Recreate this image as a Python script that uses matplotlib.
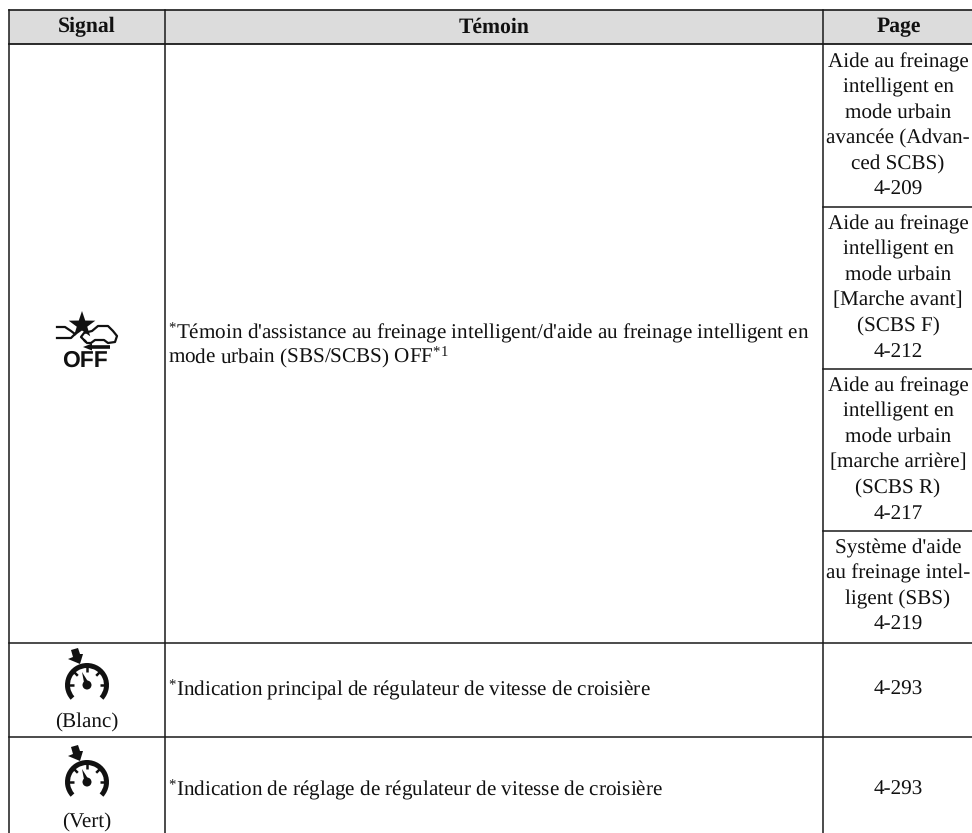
#!/usr/bin/env python
# Table of warning lights, redrawn on a pixel-sized axes
import numpy as np
import matplotlib.pyplot as plt
from matplotlib.patches import Rectangle, Wedge, Circle, Polygon
from matplotlib.lines import Line2D

W, H = 972, 833

headers = ["Signal", "Témoin", "Page"]
col_lines = [9, 164.5, 823]
row_lines = [643, 737]
sub_lines = [207, 369, 531]

page_cells = [
    ["Aide au freinage", "intelligent en", "mode urbain", "avancée (Advan-", "ced SCBS)", "4-209"],
    ["Aide au freinage", "intelligent en", "mode urbain", "[Marche avant]", "(SCBS F)", "4-212"],
    ["Aide au freinage", "intelligent en", "mode urbain", "[marche arrière]", "(SCBS R)", "4-217"],
    ["Système d'aide", "au freinage intel-", "ligent (SBS)", "4-219"],
]
page_tops = [62, 224, 386, 548]
row_pages = ["4-293", "4-293"]
row_notes = ["Indication principal de régulateur de vitesse de croisière",
             "Indication de réglage de régulateur de vitesse de croisière"]
row_colours = ["(Blanc)", "(Vert)"]

plt.rcParams['font.family'] = ['Liberation Serif', 'DejaVu Serif']
plt.rcParams['mathtext.fontset'] = 'custom'
plt.rcParams['mathtext.rm'] = 'Liberation Serif'
plt.rcParams['mathtext.default'] = 'rm'
plt.rcParams['text.hinting'] = 'none'
FS = 15.2
K = '#111111'

fig = plt.figure(figsize=(W/100, H/100), dpi=100)
ax = fig.add_axes([0, 0, 1, 1])
ax.set_xlim(0, W)
ax.set_ylim(H, 0)
ax.axis('off')

def hline(y, x0=9, x1=W, lw=1.1):
    ax.add_line(Line2D([x0, x1], [y, y], color='#1a1a1a', lw=lw))

def vline(x, y0=10, y1=H, lw=1.1):
    ax.add_line(Line2D([x, x], [y0, y1], color='#1a1a1a', lw=lw))

def txt(x, y, s, **kw):
    kw.setdefault('fontsize', FS)
    ax.text(x, y, s, ha=kw.pop('ha', 'center'), va='center', color=K, **kw)

def speedo(cx, cy):
    # dial: thick arc, ticks, needle, hub and the arrow on top left
    ax.add_patch(Wedge((cx, cy), 22, 138, 42, width=5, fc=K, ec='none'))
    for a in [0, 45, 90, 135, 180]:
        t = np.radians(a)
        ax.add_line(Line2D([cx+13*np.cos(t), cx+19*np.cos(t)], [cy-13*np.sin(t), cy-19*np.sin(t)],
                           color=K, lw=1.8, solid_capstyle='butt'))
    ax.add_patch(Circle((cx, cy), 4.5, fc=K, ec='none'))
    ax.add_patch(Polygon([[cx-2.5, cy], [cx+2.5, cy-1], [cx-5, cy-13]], fc=K, ec='none'))
    ax.add_patch(Polygon([[cx-16, cy-35], [cx-9, cy-37], [cx-7, cy-31], [cx-4, cy-31],
                          [cx-7, cy-21], [cx-19, cy-26], [cx-14, cy-28]], fc=K, ec='none'))

def off_icon():
    # star above the cars
    a = np.radians(np.arange(0, 360, 36) + 90)
    r = np.array([14, 5.5] * 5)
    ax.add_patch(Polygon(np.column_stack([82 + r*np.cos(a), 325 - r*np.sin(a)]), fc=K, ec='none'))
    # car outline
    ax.add_line(Line2D([85, 81, 84, 92, 98, 108, 113, 117, 115, 108, 104, 100, 95, 91, 87, 85],
                       [341, 337, 333, 331, 326, 326, 331, 336, 342, 343, 340, 340, 340, 343, 343, 341],
                       color=K, lw=1.6))
    # braking strokes on the left
    ax.add_line(Line2D([57, 65, 71, 75], [327, 327, 331, 334], color=K, lw=1.6))
    ax.add_line(Line2D([57, 66, 71, 75], [338, 338, 338, 334], color=K, lw=1.6))
    # arrow
    ax.add_line(Line2D([90, 110], [347, 347], color=K, lw=2.6, solid_capstyle='butt'))
    ax.add_patch(Polygon([[83, 347], [92, 343.5], [92, 350.5]], fc=K, ec='none'))
    ax.text(85, 361, "OFF", ha='center', va='center', fontsize=16.5, fontweight='bold',
            family='Liberation Sans', color=K)

# header band
ax.add_patch(Rectangle((9, 10), W-9, 34, fc='#dcdcdc', ec='none'))
hline(10, lw=1.2)
hline(44, lw=1.3)
for y in row_lines:
    hline(y)
for y in sub_lines:
    hline(y, x0=823)
for x in col_lines:
    vline(x)

for x, h in zip([87, 494, 899], headers):
    txt(x, 27, h, fontweight='bold', fontsize=15.6)

for top, cell in zip(page_tops, page_cells):
    for i, line in enumerate(cell):
        txt(898, top+i*25.5, line)

# row 1
off_icon()
txt(168, 333, r"$^{*}$Témoin d'assistance au freinage intelligent/d'aide au freinage intelligent en", ha='left')
txt(168, 357, r"mode urbain (SBS/SCBS) OFF$^{*1}$", ha='left')

# rows 2 and 3
for cy, ty, cl, note, pg, py in zip([685, 782], [722, 822], row_colours, row_notes, row_pages, [690, 790]):
    speedo(87, cy)
    txt(87, ty, cl)
    txt(168, py, r"$^{*}$" + note, ha='left')
    txt(898, py, pg)

fig.savefig("out.png", dpi=100)
